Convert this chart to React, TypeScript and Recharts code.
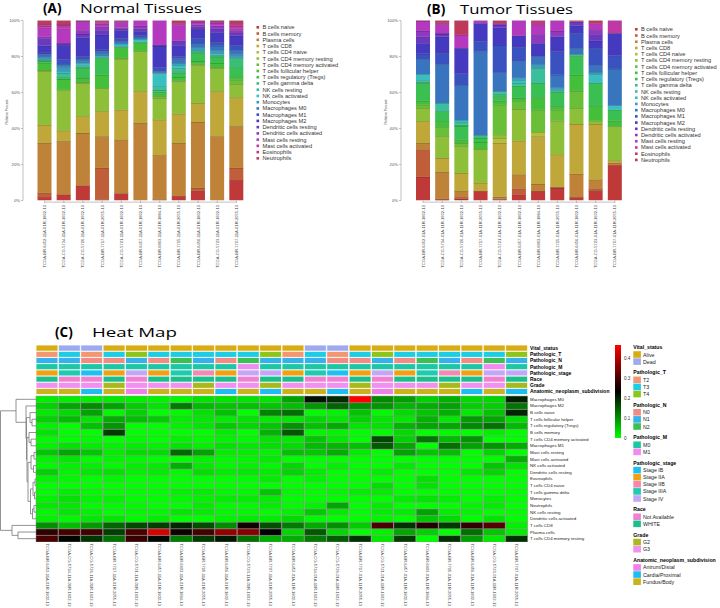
import React from 'react';
import { BarChart, Bar, XAxis, YAxis, Cell, ScatterChart, Scatter, ReferenceLine } from 'recharts';

const CELL_TYPES = [
  'B cells naive', 'B cells memory', 'Plasma cells', 'T cells CD8', 'T cells CD4 naive',
  'T cells CD4 memory resting', 'T cells CD4 memory activated', 'T cells follicular helper',
  'T cells regulatory (Tregs)', 'T cells gamma delta', 'NK cells resting', 'NK cells activated',
  'Monocytes', 'Macrophages M0', 'Macrophages M1', 'Macrophages M2', 'Dendritic cells resting',
  'Dendritic cells activated', 'Mast cells resting', 'Mast cells activated', 'Eosinophils', 'Neutrophils',
];
const CELL_COLORS = [
  '#bf3939', '#bf5e39', '#bf8239', '#bfa739', '#b3bf39', '#8ebf39', '#6abf39', '#44bf39', '#39bf52',
  '#39bf75', '#39bf9b', '#39bfbf', '#399bbf', '#3975bf', '#3952bf', '#4539bf', '#6a39bf', '#8e39bf',
  '#b439bf', '#bf39a6', '#bf3983', '#bf395d',
];

const NORMAL_SAMPLES = [
  'TCGA-BR-6452-11A-01R-1802-13', 'TCGA-CG-5734-11A-01R-1602-13', 'TCGA-CG-5726-11A-01R-1602-13',
  'TCGA-BR-7717-11A-01R-2055-13', 'TCGA-CG-5721-11A-01R-1602-13', 'TCGA-BR-6457-11A-01R-1802-13',
  'TCGA-BR-6803-11A-01R-1884-13', 'TCGA-BR-7715-11A-01R-2055-13', 'TCGA-BR-6456-11A-01R-1802-13',
  'TCGA-CG-5723-11A-01R-1602-13', 'TCGA-BR-7707-11A-01R-2055-13',
];
const TUMOR_SAMPLES = [
  'TCGA-BR-6452-01A-11R-1802-13', 'TCGA-CG-5734-01A-11R-1602-13', 'TCGA-CG-5726-01A-11R-1602-13',
  'TCGA-BR-7717-01A-11R-2055-13', 'TCGA-CG-5721-01A-11R-1602-13', 'TCGA-BR-6457-01A-11R-1802-13',
  'TCGA-BR-6803-01A-11R-1884-13', 'TCGA-BR-7715-01A-11R-2055-13', 'TCGA-BR-6456-01A-11R-1802-13',
  'TCGA-CG-5723-01A-11R-1602-13', 'TCGA-BR-7707-01A-11R-2055-13',
];

// percent of each cell type (CELL_TYPES order) per sample
const NORMAL_PCT = [
  [1.8, 2.5, 27.7, 10, 0, 30, 0.5, 4, 1, 0, 0.5, 0.5, 1, 1.5, 1, 4, 4, 1, 5, 1, 1, 2],
  [3.3, 0, 29.6, 5.9, 0, 22.7, 0, 6, 0, 1.3, 2, 1, 2.5, 1.5, 2.5, 8, 0.7, 0.5, 8, 2, 0.5, 2],
  [8.3, 0, 29.2, 9.2, 0, 18.5, 0.5, 2.3, 5.5, 0.5, 1, 1.2, 0.8, 1.5, 1.5, 10.5, 2, 2, 5, 0.2, 0, 0.3],
  [0.5, 17.6, 17.5, 13.9, 0, 12.9, 0, 7.4, 9.6, 0, 0, 0.5, 1, 1.8, 1, 8.3, 2.5, 2.1, 1.5, 0.8, 0.6, 0.5],
  [3.9, 0, 29.9, 16.6, 0, 28.3, 0.5, 5.9, 0, 0, 0.5, 1.4, 0, 1.5, 1.5, 4.5, 1, 0.5, 3, 0.5, 0, 0.5],
  [0, 0, 43, 17.6, 0, 22.5, 0, 4.6, 0, 0, 0.5, 1.5, 0, 1, 1, 2.3, 1.5, 1.5, 3, 0, 0, 0],
  [0.5, 0, 24.6, 19.8, 0, 12, 1, 1.5, 1, 1, 2, 7.2, 0.5, 0.5, 2.3, 12, 0.5, 0, 13.6, 0, 0, 0],
  [2.4, 0, 29.5, 16.3, 0, 17.9, 0.5, 2, 2.1, 1.5, 1.5, 1.6, 1, 2.5, 1.2, 6.1, 2.7, 0, 8.4, 1.2, 0, 1.6],
  [5.5, 1.5, 36.6, 10.5, 0, 20.9, 1, 1.5, 4.6, 0.5, 0.5, 0.5, 1.5, 2.4, 2.5, 5.2, 1.5, 1, 1.5, 0.5, 0, 0.3],
  [0, 0, 35.6, 25, 0, 12.9, 0.5, 2.4, 3.5, 0.5, 0.5, 1, 1.5, 2.5, 2, 5.5, 2, 1.7, 1.5, 0.8, 0.3, 0.3],
  [11.3, 6.8, 23.1, 16, 0, 7.4, 2.5, 1.8, 5, 5.1, 0, 0.5, 1.5, 2.5, 2.7, 5.3, 1.5, 1.5, 1, 1.5, 1.5, 1.5],
];
const TUMOR_PCT = [
  [13.1, 15.2, 3.6, 12.1, 0, 7.3, 1.9, 2.2, 9.8, 0.5, 1, 3.5, 0, 8.3, 3, 5.8, 3.7, 3.2, 5.5, 0, 0, 0.3],
  [0.3, 0.6, 15, 7.7, 0, 12, 5, 3.4, 5.5, 0, 4.6, 0, 0, 21.6, 6.1, 9.2, 1.5, 0.5, 4.9, 0, 1, 1.1],
  [0.9, 0.9, 3.4, 10.1, 0, 14.8, 1.8, 1.9, 7.6, 0.6, 1.5, 1.2, 0, 19.4, 6.5, 14, 0, 0, 7.4, 0, 0, 8],
  [5.2, 0, 0, 4.6, 0, 18.8, 0, 3.9, 2.2, 1.5, 0, 0, 0, 46.5, 5.6, 10.1, 0, 0, 1.6, 0, 0, 0],
  [0.5, 0.5, 1, 29.9, 2.8, 1.9, 16.6, 2.2, 2.4, 1.5, 1.3, 0, 0, 10.7, 15.1, 9.6, 1.5, 0.9, 0, 0, 0, 1.6],
  [3.3, 3.3, 7.8, 18.8, 0, 17.6, 4.2, 2, 6.7, 0, 1.5, 1.8, 1.5, 8.7, 7.9, 6.5, 0, 0, 8.4, 0, 0, 0],
  [5.2, 0, 4, 26.4, 2.4, 0, 12.4, 6.8, 8, 0, 8.3, 0, 2.2, 4.3, 0, 7.3, 0, 5, 5.1, 0, 2.6, 0],
  [7, 0.4, 0, 18.1, 0, 18.8, 6.1, 1.9, 7.9, 0, 1.3, 0, 1.3, 7, 12.9, 8.3, 0, 3.2, 5.8, 0, 0, 0],
  [1.8, 0, 13, 27.7, 0, 8.8, 9.6, 8.9, 10.7, 0, 0.7, 0, 0, 3.4, 8.3, 4.2, 2.2, 0, 0, 0, 0, 0.7],
  [5.2, 1.4, 5, 30.9, 0, 1.8, 0, 8, 12.9, 0, 0, 5, 1.1, 3.7, 9.6, 4.1, 3.6, 2.3, 3.7, 0, 0, 1.7],
  [19.6, 0, 1.3, 1.3, 0, 19, 0, 3.1, 6.1, 0, 0, 2.4, 0, 20.3, 7.4, 12.4, 0, 0, 0, 7.1, 0, 0],
];

const HEATMAP_ROWS = [
  'Macrophages M0', 'Macrophages M2', 'B cells naive', 'T cells follicular helper', 'T cells regulatory (Tregs)',
  'B cells memory', 'T cells CD4 memory activated', 'Macrophages M1', 'Mast cells resting', 'Mast cells activated',
  'NK cells activated', 'Dendritic cells resting', 'Eosinophils', 'T cells CD4 naive', 'T cells gamma delta',
  'Monocytes', 'Neutrophils', 'NK cells resting', 'Dendritic cells activated', 'T cells CD8', 'Plasma cells',
  'T cells CD4 memory resting',
];

// row dendrogram merges (hclust style: negative = leaf row, positive = earlier merge), height
const DENDRO_MERGES: [number, number, number][] = [
  [-4, -5, 4], [-3, 1, 6], [-7, -8, 5], [-6, 3, 7], [-9, -10, 2], [-11, -12, 2.5], [5, 6, 5],
  [-13, -14, 1], [-15, -16, 1.5], [8, 9, 3], [-17, -18, 2], [11, -19, 3.5], [10, 12, 5.5], [7, 13, 8],
  [4, 14, 9], [2, 15, 9.5], [-2, 16, 10], [-1, 17, 20], [-21, -22, 18], [-20, 19, 24], [18, 20, 35.5],
];

// patient clinical annotations (same patients for normal and tumor columns)
const VITAL = ['Alive', 'Dead', 'Dead', 'Alive', 'Alive', 'Alive', 'Alive', 'Alive', 'Alive', 'Alive', 'Alive'];
const PATH_T = ['T2', 'T3', 'T2', 'T3', 'T4', 'T3', 'T3', 'T3', 'T3', 'T3', 'T4'];
const PATH_N = ['N1', 'N1', 'N0', 'N0', 'N1', 'N0', 'N2', 'N1', 'N0', 'N2', 'N1'];
const PATH_M = ['M0', 'M0', 'M0', 'M0', 'M0', 'M0', 'M0', 'M0', 'M0', 'M1', 'M0'];
const STAGE = ['Stage IIA', 'Stage IIIA', 'Stage IB', 'Stage IIA', 'Stage IV', 'Stage IIA', 'Stage IIIA', 'Stage IIB', 'Stage IIA', 'Stage IV', 'Stage IV'];
const RACE = ['WHITE', 'Not Available', 'Not Available', 'WHITE', 'Not Available', 'WHITE', 'WHITE', 'WHITE', 'WHITE', 'Not Available', 'WHITE'];
const GRADE = ['G3', 'G3', 'G3', 'G2', 'G3', 'G3', 'G3', 'G2', 'G3', 'G3', 'G2'];
const SUBDIV = ['Fundus/Body', 'Fundus/Body', 'Cardia/Proximal', 'Fundus/Body', 'Antrum/Distal', 'Fundus/Body', 'Fundus/Body', 'Fundus/Body', 'Cardia/Proximal', 'Fundus/Body', 'Cardia/Proximal'];

const TRACKS = [
  { title: 'Vital_status', values: VITAL, levels: ['Alive', 'Dead'], colors: ['#D9AD12', '#9EAAF0'] },
  { title: 'Pathologic_T', values: PATH_T, levels: ['T2', 'T3', 'T4'], colors: ['#F4966F', '#1DCDE6', '#8CC51C'] },
  { title: 'Pathologic_N', values: PATH_N, levels: ['N0', 'N1', 'N2'], colors: ['#F08C84', '#35B2EC', '#3CBF54'] },
  { title: 'Pathologic_M', values: PATH_M, levels: ['M0', 'M1'], colors: ['#1DC7A5', '#F08CF0'] },
  { title: 'Pathologic_stage', values: STAGE, levels: ['Stage IB', 'Stage IIA', 'Stage IIB', 'Stage IIIA', 'Stage IV'], colors: ['#1DC0F0', '#F0A012', '#F289B4', '#1ECAB0', '#C4A6F6'] },
  { title: 'Race', values: RACE, levels: ['Not Available', 'WHITE'], colors: ['#EE82D0', '#1DBE8C'] },
  { title: 'Grade', values: GRADE, levels: ['G2', 'G3'], colors: ['#A9B81C', '#F090F0'] },
  { title: 'Anatomic_neoplasm_subdivision', values: SUBDIV, levels: ['Antrum/Distal', 'Cardia/Proximal', 'Fundus/Body'], colors: ['#F080E8', '#1DBDF0', '#C9B21A'] },
];

const PCT_TICKS = [0, 20, 40, 60, 80, 100];
const COLORBAR_TICKS = [0, 0.1, 0.2, 0.3, 0.4];
const HEAT_MAX = 0.465;
const ANN_ROW = 0.933;
const GAP = 0.23;

function heatColor(v: number) {
  const t = Math.max(0, Math.min(1, v / HEAT_MAX));
  if (t < 0.5) return `rgb(0,${Math.round(255 * (1 - 2 * t))},0)`;
  return `rgb(${Math.round(255 * (2 * t - 1))},0,0)`;
}

const SegShape = (props: any) => {
  const { x, y, width, height, fill } = props;
  if (!height || height <= 0) return <g />;
  return (
    <g>
      <rect x={x} y={y} width={width} height={height} fill={fill} />
      <line x1={x} x2={x + width} y1={y} y2={y} stroke="#000" strokeOpacity={0.45} strokeWidth={0.7} />
    </g>
  );
};

const UpTick = (props: any) => {
  const { x, y, payload } = props;
  return (
    <text x={x} y={y} transform={`rotate(-90 ${x} ${y})`} textAnchor="end" dominantBaseline="central" fontSize={4.1} fill="#444">
      {payload.value}
    </text>
  );
};

const DownTick = (props: any) => {
  const { x, y, payload } = props;
  return (
    <text x={x} y={y} transform={`rotate(90 ${x} ${y})`} textAnchor="start" dominantBaseline="central" fontSize={4.1} fill="#444">
      {payload.value}
    </text>
  );
};

function CompositionChart({ samples, pcts, axisW, padLeft, marginRight }: any) {
  const data = samples.map((s: string, i: number) => {
    const row: any = { name: s };
    CELL_TYPES.forEach((_, k) => { row['c' + k] = pcts[i][k]; });
    return row;
  });
  return (
    <BarChart width={255} height={275} data={data} margin={{ top: 20.5, right: marginRight, bottom: 0, left: 0 }} barCategoryGap="13%">
      <XAxis dataKey="name" interval={0} height={74.5} tickSize={2.5} tickMargin={2} axisLine={false}
        tickLine={{ stroke: '#999', strokeWidth: 0.6 }} padding={{ left: padLeft, right: 0 }} tick={(p: any) => <UpTick {...p} />} />
      <YAxis width={axisW} domain={[0, 100]} ticks={PCT_TICKS} interval={0} tickFormatter={(v: number) => `${v}%`} tickSize={2} tickMargin={1}
        axisLine={{ stroke: '#999', strokeWidth: 0.6 }} tickLine={{ stroke: '#999', strokeWidth: 0.6 }} tick={{ fontSize: 4.2, fill: '#555' }} allowDataOverflow />
      <ReferenceLine segment={[{ x: samples[0], y: -0.9 }, { x: samples[samples.length - 1], y: -0.9 }]} stroke="#999" strokeWidth={0.6} ifOverflow="visible" />
      {CELL_TYPES.map((t, k) => (
        <Bar key={t} dataKey={'c' + k} stackId="s" fill={CELL_COLORS[k]} isAnimationActive={false} shape={SegShape} />
      ))}
    </BarChart>
  );
}

const HM_SAMPLES = [...NORMAL_SAMPLES, ...TUMOR_SAMPLES];
const HM_PCT = [...NORMAL_PCT, ...TUMOR_PCT];
const HM_TOTAL = HEATMAP_ROWS.length + GAP + TRACKS.length * ANN_ROW;

function HeatMapChart() {
  const data = HM_SAMPLES.map((s, c) => {
    const o: any = { name: s, gap: GAP };
    HEATMAP_ROWS.forEach((_, r) => { o['h' + r] = 1; });
    TRACKS.forEach((_, j) => { o['a' + j] = ANN_ROW; });
    return o;
  });
  const nR = HEATMAP_ROWS.length;
  const tickInfo: { v: number; text: string; bold: boolean }[] = [];
  HEATMAP_ROWS.forEach((r, i) => tickInfo.push({ v: nR - 1 - i + 0.5, text: r, bold: false }));
  TRACKS.forEach((t, j) => tickInfo.push({ v: nR + GAP + (TRACKS.length - 1 - j + 0.5) * ANN_ROW, text: t.title, bold: true }));
  const find = (v: number) => tickInfo.reduce((a, b) => (Math.abs(b.v - v) < Math.abs(a.v - v) ? b : a));
  const rowOrder = HEATMAP_ROWS.map((_, i) => nR - 1 - i);
  const trackOrder = TRACKS.map((_, j) => TRACKS.length - 1 - j);
  return (
    <BarChart width={612} height={268} data={data} margin={{ top: 5, right: 0, bottom: 0, left: 36 }} barCategoryGap={0} barGap={0}>
      <XAxis dataKey="name" interval={0} height={66} tickSize={0} tickMargin={1.5} axisLine={false} tickLine={false} tick={(p: any) => <DownTick {...p} />} />
      <YAxis orientation="right" width={84} type="number" domain={[0, HM_TOTAL]} ticks={tickInfo.map((t) => t.v)} interval={0}
        axisLine={false} tickLine={false} tickSize={0} tickMargin={2} allowDataOverflow
        tick={(p: any) => {
          const info = find(p.payload.value);
          return (
            <text x={p.x} y={p.y} textAnchor="start" dominantBaseline="central" fontSize={info.bold ? 5 : 4.4} fontWeight={info.bold ? 'bold' : 'normal'} fill={info.bold ? '#000' : '#222'}>
              {info.text}
            </text>
          );
        }} />
      {rowOrder.map((r) => (
        <Bar key={'h' + r} dataKey={'h' + r} stackId="hm" isAnimationActive={false} stroke="#8a8a8a" strokeWidth={0.5}>
          {HM_SAMPLES.map((s, c) => (
            <Cell key={s} fill={heatColor(HM_PCT[c][CELL_TYPES.indexOf(HEATMAP_ROWS[r])] / 100)} />
          ))}
        </Bar>
      ))}
      <Bar dataKey="gap" stackId="hm" fill="none" isAnimationActive={false} />
      {trackOrder.map((j) => (
        <Bar key={'a' + j} dataKey={'a' + j} stackId="hm" isAnimationActive={false} stroke="#fff" strokeWidth={0.8}>
          {HM_SAMPLES.map((s, c) => {
            const t = TRACKS[j];
            return <Cell key={s} fill={t.colors[t.levels.indexOf(t.values[c % t.values.length])]} />;
          })}
        </Bar>
      ))}
    </BarChart>
  );
}

function Dendrogram() {
  const pos: { y: number; h: number }[] = [];
  const get = (id: number) => (id < 0 ? { y: -id - 1 + 0.5, h: 0 } : pos[id - 1]);
  const shapes: { x: number; y: number }[][] = [];
  DENDRO_MERGES.forEach(([a, b, h]) => {
    const A = get(a);
    const B = get(b);
    shapes.push([{ x: A.h, y: A.y }, { x: h, y: A.y }, { x: h, y: B.y }, { x: B.h, y: B.y }]);
    pos.push({ y: (A.y + B.y) / 2, h });
  });
  return (
    <ScatterChart width={36} height={146} margin={{ top: 0, right: 0, bottom: 0, left: 0 }}>
      <XAxis type="number" dataKey="x" domain={[0, 36]} reversed hide allowDataOverflow />
      <YAxis type="number" dataKey="y" domain={[0, HEATMAP_ROWS.length]} reversed hide allowDataOverflow />
      {shapes.map((pts, i) => (
        <Scatter key={i} data={pts} line={{ stroke: '#777', strokeWidth: 0.8 }} lineType="joint" shape={() => <g />} isAnimationActive={false} />
      ))}
    </ScatterChart>
  );
}

function ColorBar() {
  return (
    <BarChart width={34} height={101} data={[{ name: 'k', v: HEAT_MAX }]} margin={{ top: 4, right: 0, bottom: 4, left: 3 }} barCategoryGap={0}>
      <defs>
        <linearGradient id="heatGrad" x1="0" y1="0" x2="0" y2="1">
          <stop offset="0%" stopColor="#ff0000" />
          <stop offset="50%" stopColor="#000000" />
          <stop offset="100%" stopColor="#00ff00" />
        </linearGradient>
      </defs>
      <XAxis dataKey="name" hide />
      <YAxis orientation="right" width={25} domain={[0, HEAT_MAX]} ticks={COLORBAR_TICKS} interval={0} axisLine={false} tickLine={false}
        tickSize={0} tickMargin={3} tick={{ fontSize: 4.6, fill: '#333' }} allowDataOverflow />
      <Bar dataKey="v" fill="url(#heatGrad)" isAnimationActive={false} />
    </BarChart>
  );
}

function CellLegend({ x, y0, step }: any) {
  return (
    <g>
      {CELL_TYPES.map((t, k) => (
        <g key={t}>
          <rect x={x} y={y0 + k * step - 1.3} width={2.6} height={2.6} fill={CELL_COLORS[k]} />
          <text x={x + 6} y={y0 + k * step} dominantBaseline="central" fontSize={5.7} fill="#333">{t}</text>
        </g>
      ))}
    </g>
  );
}

function AnnotationLegend() {
  const items: any[] = [];
  let y = 347;
  TRACKS.forEach((t, j) => {
    items.push(<text key={'t' + j} x={633.3} y={y} dominantBaseline="central" fontSize={5.2} fontWeight="bold" fill="#000">{t.title}</text>);
    let iy = y + 7.5;
    t.levels.forEach((lv, i) => {
      items.push(<rect key={'r' + j + '-' + i} x={633.3} y={iy - 3.3} width={7.6} height={6.6} fill={t.colors[i]} />);
      items.push(<text key={'l' + j + '-' + i} x={643} y={iy} dominantBaseline="central" fontSize={5.3} fill="#222">{lv}</text>);
      if (i < t.levels.length - 1) iy += 7.1;
    });
    y = iy + 10.75;
  });
  return <g>{items}</g>;
}

export default function App() {
  return (
    <div style={{ position: 'absolute', left: 0, top: 0, width: 720, height: 608, background: '#fff', fontFamily: '"Liberation Sans", Arial, sans-serif', overflow: 'hidden' }}>
      <div style={{ position: 'absolute', left: 0, top: 0 }}>
        <CompositionChart samples={NORMAL_SAMPLES} pcts={NORMAL_PCT} axisW={23} padLeft={12} marginRight={9} />
      </div>
      <div style={{ position: 'absolute', left: 380, top: 0 }}>
        <CompositionChart samples={TUMOR_SAMPLES} pcts={TUMOR_PCT} axisW={21} padLeft={12.5} marginRight={10.5} />
      </div>
      <div style={{ position: 'absolute', left: 0, top: 340 }}>
        <HeatMapChart />
      </div>
      <div style={{ position: 'absolute', left: 0, top: 396 }}>
        <Dendrogram />
      </div>
      <div style={{ position: 'absolute', left: 612, top: 341 }}>
        <ColorBar />
      </div>
      <svg width={720} height={608} style={{ position: 'absolute', left: 0, top: 0, pointerEvents: 'none' }}>
        <g fontFamily='"Open Sans", sans-serif' fill="#000">
          <text x={43} y={13.2} fontSize={13.5} fontWeight="bold">(A)</text>
          <text x={80} y={13.2} fontSize={13.5} textLength={122} lengthAdjust="spacingAndGlyphs">Normal Tissues</text>
          <text x={427} y={13.8} fontSize={13.5} fontWeight="bold">(B)</text>
          <text x={460} y={13.8} fontSize={13.5} textLength={113} lengthAdjust="spacingAndGlyphs">Tumor Tissues</text>
          <text x={55} y={336.7} fontSize={13.5} fontWeight="bold">(C)</text>
          <text x={92} y={336.7} fontSize={13.5} textLength={85} lengthAdjust="spacingAndGlyphs">Heat Map</text>
        </g>
        <text x={7} y={112} transform="rotate(-90 7 112)" textAnchor="middle" dominantBaseline="central" fontSize={3.4} fill="#444">Relative Percent</text>
        <text x={386} y={112} transform="rotate(-90 386 112)" textAnchor="middle" dominantBaseline="central" fontSize={3.4} fill="#444">Relative Percent</text>
        <CellLegend x={256.5} y0={27.3} step={6.24} />
        <CellLegend x={635} y0={29.3} step={6.22} />
        <AnnotationLegend />
      </svg>
    </div>
  );
}
